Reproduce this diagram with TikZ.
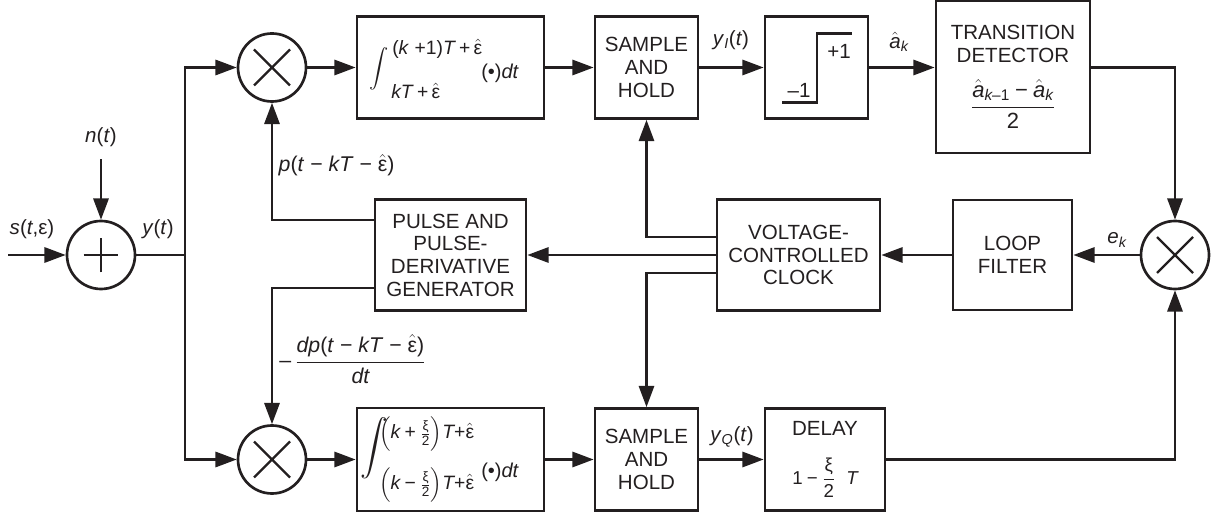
\documentclass[tikz,border=0pt]{standalone}
\usepackage{fontspec}
\setmainfont{Liberation Sans}
\usepackage{amsmath}
\usetikzlibrary{arrows.meta,calc}
\definecolor{ink}{RGB}{35,31,32}
\newcommand\eh{\ensuremath{\hat{\text{ε}}}}
\newcommand\ah{\hat{\text{\itshape a}}}
\newcommand\iv[1]{\text{\itshape #1}}
\newcommand\pl{\mathbin{\text{+}}}
\newcommand\mn{\mathbin{\text{−}}}
\tikzset{
  every node/.style={text=ink, font=\fontsize{15.4}{17}\selectfont},
  blk/.style={draw=ink, line width=2.1pt, align=center, inner sep=0pt},
  mult/.style={circle, draw=ink, line width=2pt, minimum size=51pt, inner sep=0pt,
    path picture={\draw[ink,line width=1.7pt]
      ($(path picture bounding box.center)+(-13.5pt,-13.5pt)$) -- ++(27pt,27pt)
      ($(path picture bounding box.center)+(-13.5pt,13.5pt)$) -- ++(27pt,-27pt);}},
  sumc/.style={circle, draw=ink, line width=2pt, minimum size=51pt, inner sep=0pt,
    path picture={\draw[ink,line width=1.7pt]
      ($(path picture bounding box.center)+(-13pt,0pt)$) -- ++(26pt,0pt)
      ($(path picture bounding box.center)+(0pt,-13pt)$) -- ++(0pt,26pt);}},
  conn/.style={draw=ink, line width=1.7pt, -{Triangle[length=16pt,width=11.5pt]}},
  wire/.style={draw=ink, line width=1.7pt},
  lim/.style={font=\fontsize{14.5}{15}\selectfont, inner sep=0pt},
}
\begin{document}
\begin{tikzpicture}[x=0.75pt,y=-0.75pt]
\useasboundingbox (0,0) rectangle (1214,516);

% top row
\node[mult] (mA) at (272,67.5) {};
\node[blk, minimum width=140.25pt, minimum height=76.5pt] (intA) at (450.5,67.5) {};
\node (isA) at (379,69) {\fontsize{13.5}{13.5}\selectfont$\displaystyle\int$};
\node[lim, anchor=west] (luA) at (392,49) {(\textit{k} +1)\textit{T}\,+\,\eh};
\node[lim, anchor=west] (llA) at (391,91) {\textit{kT}\,+\,\eh};
\node[lim, anchor=west] (dtA) at (481,73) {\fontsize{15}{15}\selectfont(•)\textit{dt}};
\node[blk, minimum width=77.25pt, minimum height=76.5pt] (shA) at (646.5,67.5) {SAMPLE\\AND\\HOLD};
\node[blk, minimum width=77.25pt, minimum height=76.5pt] (q) at (816.5,67.5) {};
\draw[wire] ($(q)+(-34.5,35)$) -- ($(q)+(0.5,35)$) -- ($(q)+(0.5,-34)$) -- ($(q)+(35.5,-34)$);
\node (p1) at (839,51) {+1};
\node (m1) at (799,90) {–1};
\node[blk, minimum width=115.5pt, minimum height=114pt] (td) at (1013,77)
  {TRANSITION\\DETECTOR\\[12pt]{\fontsize{16.5}{17}\selectfont$\dfrac{\ah_{\iv{k}\text{–1}}\mn\ah_{\iv{k}}}{\text{2}}$}};

% middle row
\node[sumc] (add) at (101,255) {};
\node[mult] (mC) at (1175,255) {};
\node[blk, minimum width=89.25pt, minimum height=82.5pt] (lf) at (1012.5,255) {LOOP\\FILTER};
\node[blk, minimum width=122.25pt, minimum height=83.25pt] (vcc) at (798.5,255) {VOLTAGE-\\CONTROLLED\\CLOCK};
\node[blk, minimum width=113.25pt, minimum height=83.25pt] (pg) at (450.5,255) {PULSE AND\\PULSE-\\DERIVATIVE\\GENERATOR};

% bottom row
\node[mult] (mB) at (272,459.5) {};
\node[blk, minimum width=140.25pt, minimum height=77.25pt] (intB) at (450.5,459.5) {};
\node (isB) at (374,448) {\fontsize{22}{22}\selectfont$\displaystyle\int$};
\node[lim, anchor=west] (luB) at (379,434) {$\left(\iv{k}\pl\frac{\text{ξ}}{\text{2}}\right)\!\iv{T}\text{+}\eh$};
\node[lim, anchor=west] (llB) at (379,485) {$\left(\iv{k}\mn\frac{\text{ξ}}{\text{2}}\right)\!\iv{T}\text{+}\eh$};
\node[lim, anchor=west] (dtB) at (481,472) {\fontsize{15}{15}\selectfont(•)\textit{dt}};
\node[blk, minimum width=77.25pt, minimum height=76.5pt] (shB) at (646.5,459.5) {SAMPLE\\AND\\HOLD};
\node[blk, minimum width=90pt, minimum height=76.5pt] (dl) at (825,459.5)
  {DELAY\\[16pt]{\fontsize{14}{14}\selectfont$\text{1}\mn\dfrac{\text{ξ}}{\text{2}}\;\;\iv{T}$}};

% labels
\node (st) at (32,229) {\textit{s}(\textit{t},ε)};
\node (nt) at (101,137) {\textit{n}(\textit{t})};
\node (yt) at (158,229) {\textit{y}(\textit{t})};
\node[anchor=west, font=\fontsize{16}{17}\selectfont] (plab) at (274,165) {\textit{p}(\textit{t} − \textit{kT} − \eh)};
\node[anchor=base west, inner sep=0pt, font=\fontsize{16}{17}\selectfont] (dplab) at (279,368)
  {$\text{–}\,\dfrac{\text{\textit{dp}(\textit{t} − \textit{kT} − \eh)}}{\iv{dt}}$};
\node (yI) at (731,40) {\textit{y}$_{\iv{I}}$(\textit{t})};
\node (ak) at (899,42) {$\ah_{\iv{k}}$};
\node (ek) at (1117,240) {$\iv{e}_{\iv{k}}$};
\node (yQ) at (732,437) {\textit{y}$_{\iv{Q}}$(\textit{t})};

% connectors
\coordinate (in) at (8,255);
\coordinate (j) at (185,255);
\draw[conn] (in) -- (add);
\draw[conn, shorten <=6pt] (nt) -- (add);
\draw[wire] (add) -- (j);
\draw[conn] (j) |- (mA);
\draw[conn] (j) |- (mB);
\draw[conn] (mA) -- (intA);
\draw[conn] (intA) -- (shA);
\draw[conn] (shA) -- (q);
\draw[conn] (q) -- (q -| td.west);
\draw[conn] (td.east |- q) -| (mC);
\draw[conn] (mC) -- (lf);
\draw[conn] (lf) -- (vcc);
\draw[conn] (vcc) -- (pg);
\draw[conn] ($(vcc.west)+(0,-18)$) -| (shA);
\draw[conn] ($(vcc.west)+(0,18)$) -| (shB);
\draw[conn] ($(pg.west)+(0,-35)$) -| (mA);
\draw[conn] ($(pg.west)+(0,33)$) -| (mB);
\draw[conn] (mB) -- (intB);
\draw[conn] (intB) -- (shB);
\draw[conn] (shB) -- (dl);
\draw[conn] (dl) -| (mC);
\end{tikzpicture}
\end{document}
